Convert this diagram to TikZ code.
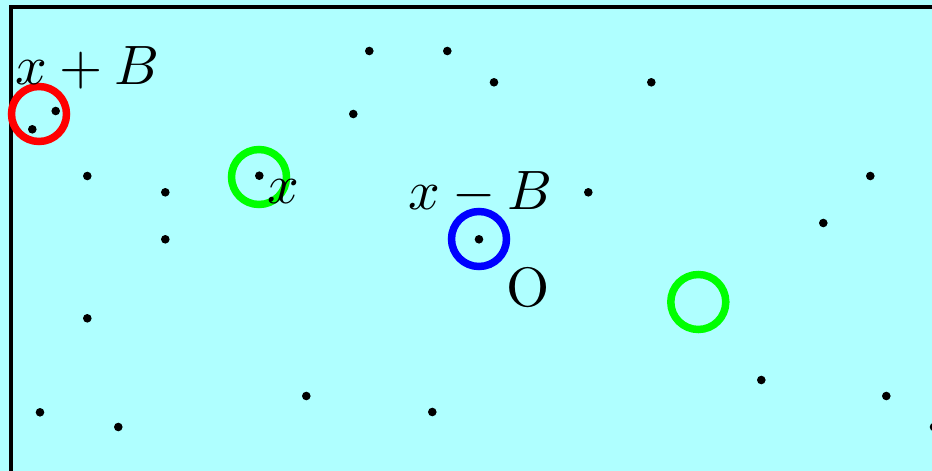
\documentclass[tikz,border=0pt]{standalone}
\begin{document}
\begin{tikzpicture}[x=1pt,y=-1pt,
  dot/.style={circle,fill=black,inner sep=0pt,minimum size=8.6pt},
  ring/.style={circle,draw=#1,line width=7.5pt,inner sep=0pt,minimum size=55pt},
  lbl/.style={inner sep=0pt,anchor=base west,scale=5.55}]
\definecolor{bgcyan}{RGB}{175,255,255}
\useasboundingbox (0,0) rectangle (932,471);
\fill[bgcyan] (0,0) rectangle (932,471);
\draw[line width=4pt] (1000,7) -- (10.5,7) -- (10.5,473.5) -- (1000,473.5);
% dots
\foreach \px/\py [count=\i] in {369.3/51,447.3/51,494/82.3,651.3/82.3,353.3/114,
  55.7/111,32.3/129.3,87.3/176,165.3/192.3,259.3/175.7,165.3/239.3,588.3/192.3,
  870.3/176,823.3/223,479/239.3,87.3/318.3,761.3/380,886.3/396,40/412.3,
  118.3/427,306.3/396,432.3/412,934/427}
  \node[dot] (d\i) at (\px,\py) {};
% rings
\node[ring=red] (r1) at (39,114) {};
\node[ring=green] (g1) at (259,177) {};
\node[ring=blue] (b1) at (479,239) {};
\node[ring=green] (g2) at (698.3,302) {};
% labels
\node[lbl] (l1) at (14,84) {$x+B$};
\node[lbl] (l2) at (266,203) {$x$};
\node[lbl] (l3) at (407,209) {$x-B$};
\node[lbl] (l4) at (505,306) {O};
\end{tikzpicture}
\end{document}
